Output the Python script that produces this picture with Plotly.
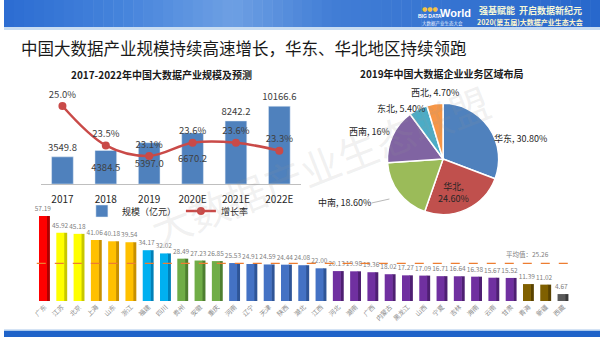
import plotly.graph_objects as go
import numpy as np

# ---------------- data ----------------
years = ["2017", "2018", "2019", "2020E", "2021E", "2022E"]
scale = [3549.8, 4384.5, 5397.0, 6670.2, 8242.2, 10166.6]
growth = [25.0, 23.5, 23.1, 23.6, 23.6, 23.3]

regions = ["华东", "华北", "中南", "西南", "东北", "西北"]
shares = [30.80, 24.60, 18.60, 16, 5.40, 4.70]
share_text = ["30.80%", "24.60%", "18.60%", "16%", "5.40%", "4.70%"]

provinces = ["广东", "江苏", "北京", "上海", "山东", "浙江", "福建", "四川", "贵州", "安徽",
             "重庆", "河南", "辽宁", "天津", "陕西", "湖北", "江西", "河北", "湖南", "广西",
             "内蒙古", "黑龙江", "山西", "宁夏", "吉林", "海南", "云南", "甘肃", "青海", "新疆", "西藏"]
index_vals = [57.19, 45.92, 45.18, 41.06, 40.18, 39.54, 34.17, 32.02, 28.49, 27.23,
              26.85, 25.53, 24.91, 24.59, 24.44, 24.08, 22.00, 20.13, 19.98, 19.36,
              18.02, 17.27, 17.09, 16.71, 16.64, 16.38, 15.67, 15.52, 11.39, 11.02, 4.67]
tiers = [0, 1, 1, 2, 2, 2, 3, 3, 4, 4, 4, 5, 5, 5, 5, 5, 5, 6, 6, 6, 6, 6, 6, 6, 6, 6, 6, 6, 7, 7, 8]
average = 25.26

# ---------------- styles ----------------
W, H = 600, 337
tier_colors = ["#FF0000", "#FFFF00", "#FFC000", "#00B0F0", "#70AD47", "#4472C4", "#7030A0", "#806000", "#595959"]
tier_side = ["#B00000", "#C8C800", "#C89000", "#0080B8", "#4E7F30", "#2F5597", "#4E1F72", "#5A4300", "#3A3A3A"]
bar_colors = [tier_colors[t] for t in tiers]
side_colors = [tier_side[t] for t in tiers]
pie_colors = ["#4F81BD", "#C0504D", "#9BBB59", "#8064A2", "#4BACC6", "#F79646"]
FONT = "Noto Sans CJK SC"


def px(x):
    return x / W


def py(y):
    return 1 - y / H


fig = go.Figure()

# left chart: bars + growth line
fig.add_trace(go.Bar(
    x=years, y=scale, name="规模（亿元）", xaxis="x", yaxis="y",
    marker=dict(color="#4F81BD"), width=0.5,
    text=[f"{v:.1f}" for v in scale],
    textposition=["outside", "inside", "inside", "inside", "outside", "outside"],
    insidetextanchor="middle", constraintext="none", cliponaxis=False, textangle=0,
    textfont=dict(size=9.5, color="#404040", family=FONT),
    insidetextfont=dict(size=9.5, color="#404040", family=FONT),
    outsidetextfont=dict(size=9.5, color="#404040", family=FONT),
    hoverinfo="x+y",
))
fig.add_trace(go.Scatter(
    x=years, y=growth, name="增长率", xaxis="x", yaxis="y2",
    mode="lines+markers+text",
    line=dict(color="#C94A48", width=2.5, shape="spline", smoothing=1.0),
    marker=dict(size=8, color="#C94A48"),
    text=[f"{g:.1f}%" for g in growth], textposition="top center",
    textfont=dict(size=9.5, color="#404040", family=FONT), cliponaxis=False,
))

# pie chart
fig.add_trace(go.Pie(
    labels=regions, values=shares, sort=False, direction="clockwise", rotation=0,
    marker=dict(colors=pie_colors, line=dict(color="white", width=1.5)),
    textinfo="none", showlegend=False,
    domain=dict(x=[px(386), px(498)], y=[py(215), py(103)]),
))

# bottom chart: pseudo-3D bars
fig.add_trace(go.Bar(
    x=provinces, y=index_vals, xaxis="x3", yaxis="y3", showlegend=False,
    marker=dict(color=side_colors, line=dict(width=0)), width=0.2, offset=0.1, hoverinfo="skip",
))
fig.add_trace(go.Bar(
    x=provinces, y=index_vals, xaxis="x3", yaxis="y3", showlegend=False,
    marker=dict(color=bar_colors, line=dict(width=0)), width=0.46, offset=-0.33,
    text=[f"{v:.2f}" for v in index_vals], textposition="outside", textangle=0,
    constraintext="none", cliponaxis=False,
    textfont=dict(size=6.5, color="#808080", family=FONT),
))

# ---------------- shapes ----------------
shapes = []
stops_x = [0, 120, 230, 330, 600]
stops_c = [(44, 108, 210), (70, 132, 220), (110, 160, 228), (66, 126, 214), (40, 104, 204)]
n = 60
for i in range(n):
    x0 = W * i / n
    x1 = min(W * (i + 1) / n + 0.5, W)
    xm = (x0 + x1) / 2
    c = [int(np.interp(xm, stops_x, [s[k] for s in stops_c])) for k in range(3)]
    shapes.append(dict(type="rect", xref="paper", yref="paper", x0=px(x0), x1=px(x1),
                       y0=py(27), y1=1, fillcolor=f"rgb({c[0]},{c[1]},{c[2]})", line=dict(width=0), layer="below"))
shapes.append(dict(type="rect", xref="paper", yref="paper", x0=0, x1=1, y0=py(30), y1=py(27),
                   fillcolor="#C9DDF2", line=dict(width=0), layer="below"))
shapes.append(dict(type="rect", xref="paper", yref="paper", x0=0, x1=1, y0=0, y1=py(331),
                   fillcolor="#1F63C9", line=dict(width=0), layer="below"))
shapes.append(dict(type="rect", xref="paper", yref="paper", x0=0, x1=1, y0=py(331), y1=py(329.5),
                   fillcolor="#A9C8EC", line=dict(width=0), layer="below"))
shapes.append(dict(type="line", xref="paper", yref="y3", x0=px(33), x1=px(575), y0=average, y1=average,
                   line=dict(color="#ED7D31", width=1.2, dash="dash")))
shapes.append(dict(type="line", xref="paper", yref="paper", x0=px(370), x1=px(388), y0=py(203), y1=py(199),
                   line=dict(color="#A6A6A6", width=0.8)))

# ---------------- annotations ----------------
ann = []


def note(text, x, y, size, color, family=FONT, **kw):
    d = dict(text=text, x=px(x), y=py(y), xref="paper", yref="paper", showarrow=False,
             xanchor="center", yanchor="middle",
             font=dict(size=size, color=color, family=family))
    d.update(kw)
    ann.append(d)


note("中国大数据产业规模持续高速增长，华东、华北地区持续领跑", 15, 48, 16.5, "#1A1A1A",
     xanchor="left")
note("<b>2017-2022年中国大数据产业规模及预测</b>", 159, 74, 10, "#1A1A1A")
note("<b>2019年中国大数据企业业务区域布局</b>", 441, 73, 10, "#1A1A1A")
# banner texts
note("<b>强基赋能  开启数据新纪元</b>", 530, 10, 9, "#F4F7D8")
note("<b>2020(第五届)大数据产业生态大会</b>", 530, 22, 7, "#FFF6CC")
note("<b>World</b>", 455, 13, 11, "white", family="Liberation Sans")
note("<b>BIG DATA</b>", 429, 16, 5, "white", family="Liberation Sans")
note("大数据产业生态大会", 441, 23, 4.5, "#E8F0FF")
note("●●●", 429, 8, 6, "#F5C342", family="DejaVu Sans")

# pie labels
pie_label_pos = [(520, 139), (453, 192), (343, 202), (368, 131), (400, 109), (434, 92)]
for name, txt, (lx, ly) in zip(regions, share_text, pie_label_pos):
    label = f"{name},<br>{txt}" if name == "华北" else f"{name}, {txt}"
    note(label, lx, ly, 9, "#262626")

note(f"平均值：{average:.2f}", 527, 254, 6.5, "#808080")

# watermark
note("大数据产业生态联盟", 318, 165, 40, "rgba(150,150,150,0.14)", textangle=-21.5)

fig.update_layout(
    width=W, height=H, margin=dict(l=0, r=0, t=0, b=0),
    paper_bgcolor="white", plot_bgcolor="rgba(0,0,0,0)",
    barmode="overlay",
    font=dict(family=FONT),
    shapes=shapes, annotations=ann,
    showlegend=True,
    legend=dict(orientation="h", x=px(165), y=py(211), xanchor="center", yanchor="middle",
                font=dict(size=9, color="#262626", family=FONT), bgcolor="rgba(0,0,0,0)",
                itemwidth=30),
    xaxis=dict(domain=[px(37), px(299)], type="category", anchor="y", range=[-0.5, 5.5],
               showline=True, linecolor="#BFBFBF", linewidth=1, ticks="", showgrid=False,
               ticklabelstandoff=6,
               tickfont=dict(size=10, color="#262626", family=FONT), fixedrange=True),
    yaxis=dict(domain=[py(184), py(86)], range=[0, 12810], visible=False, showgrid=False),
    yaxis2=dict(domain=[py(184), py(86)], range=[22.03, 25.76], overlaying="y", anchor="x",
                visible=False, showgrid=False),
    xaxis3=dict(domain=[px(32.3), px(571.7)], type="category", anchor="y3", range=[-0.5, 30.5],
                showline=False, ticks="", showgrid=False, tickangle=-45,
                tickfont=dict(size=6.5, color="#8C8C8C", family=FONT)),
    yaxis3=dict(domain=[py(301), py(205)], range=[0, 64.6], visible=False, showgrid=False),
)

fig.write_html("out.html")
